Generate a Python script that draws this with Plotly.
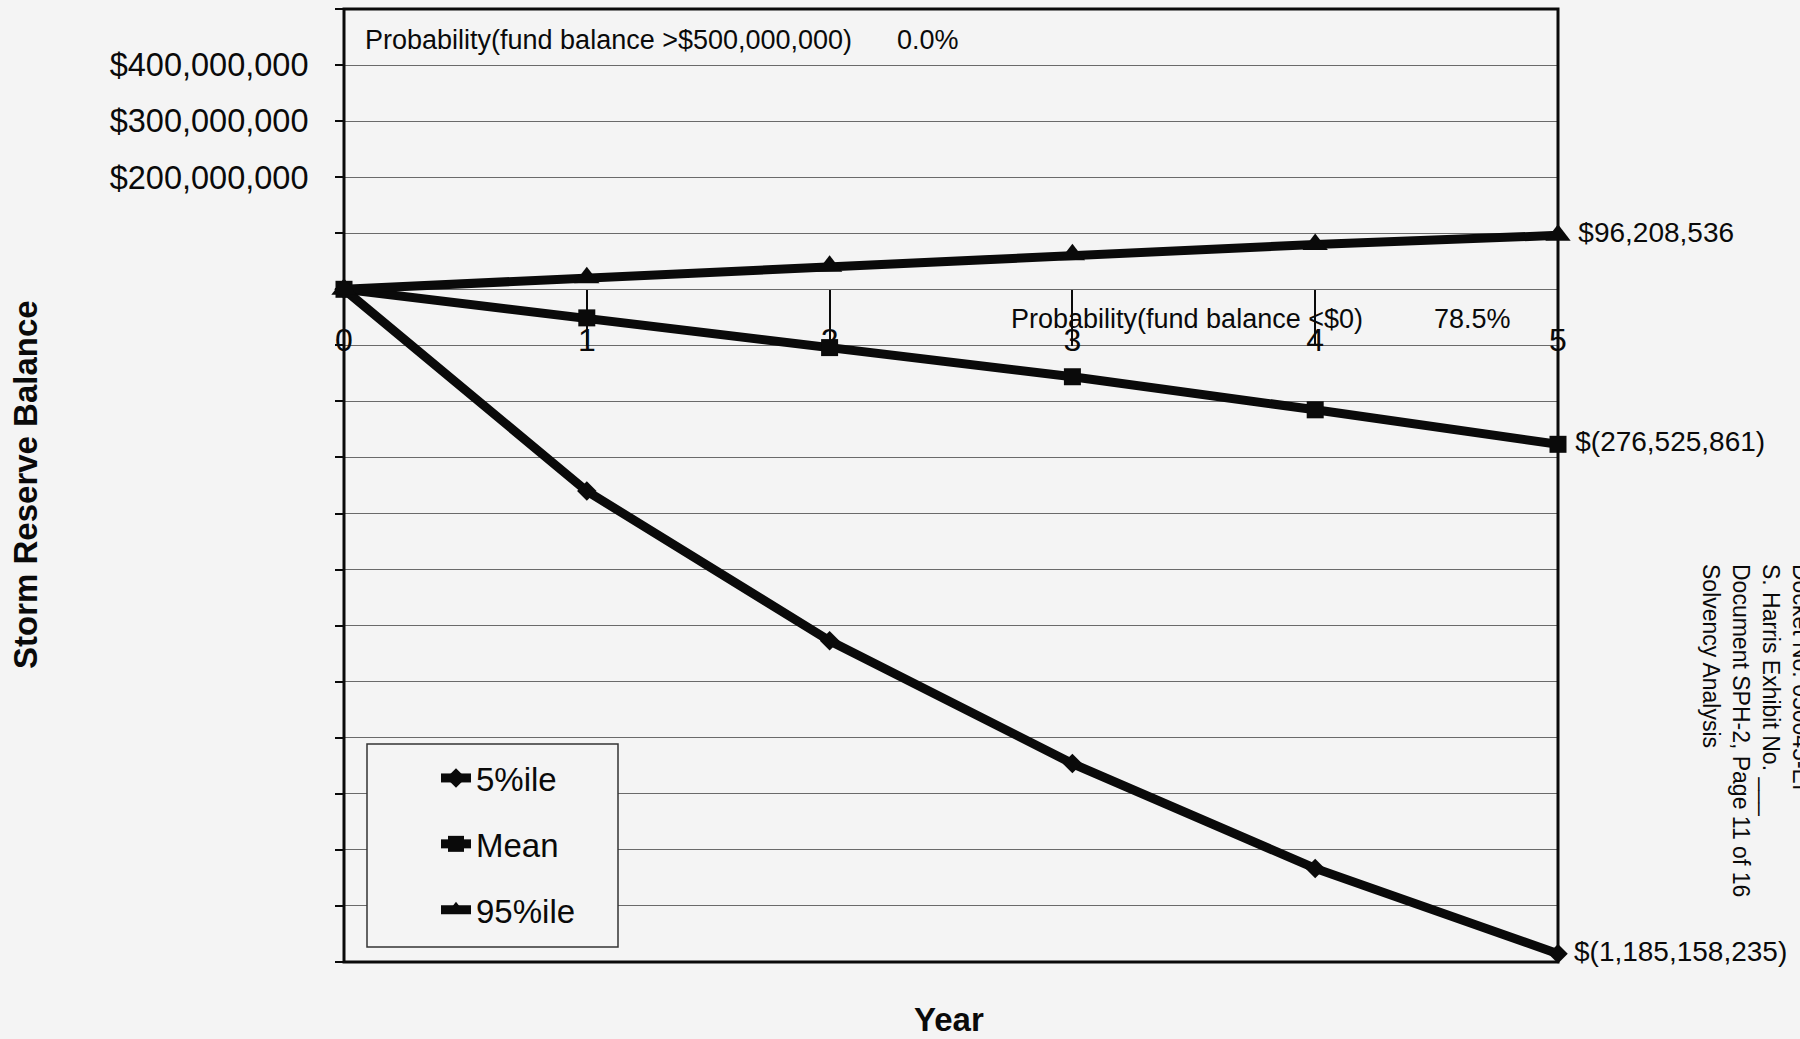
import plotly.graph_objects as go

# Storm reserve fund projection, years 0-5
years = [0, 1, 2, 3, 4, 5]
pct05 = [0, -360_000_000, -627_000_000, -846_000_000, -1_033_000_000, -1_185_158_235]
mean = [0, -51_000_000, -104_000_000, -156_000_000, -215_000_000, -276_525_861]
pct95 = [0, 20_500_000, 41_000_000, 61_500_000, 80_000_000, 96_208_536]

series_names = ["5%ile", "Mean", "95%ile"]
series_symbols = ["diamond", "square", "triangle-up"]
symbol_sizes = [15, 17, 22]

# y axis: gridline every $100M, only a few labelled
y_tick_values = list(range(-1_200_000_000, 500_000_001, 100_000_000))
y_labelled = {200_000_000: "$200,000,000", 300_000_000: "$300,000,000", 400_000_000: "$400,000,000"}
y_tick_text = [y_labelled.get(v, "") for v in y_tick_values]
y_range = [-1_200_000_000, 500_000_000]

prob_high_label = "Probability(fund balance >$500,000,000)"
prob_high_value = "0.0%"
prob_low_label = "Probability(fund balance <$0)"
prob_low_value = "78.5%"

side_note = ["Docket No. 050045-EI", "S. Harris Exhibit No. ___",
             "Document SPH-2, Page 11 of 16", "Solvency Analysis"]

FONT = "Liberation Sans, Arial, sans-serif"
BG = "#f4f4f4"
INK = "#0a0a0a"


def money(v):
    # thin space keeps the end-of-line label clear of the marker
    return f"\u2009${v:,.0f}" if v >= 0 else f"\u2009$({abs(v):,.0f})"


fig = go.Figure()
for name, sym, size, vals in zip(series_names, series_symbols, symbol_sizes, [pct05, mean, pct95]):
    labels = [""] * (len(vals) - 1) + [money(vals[-1])]
    fig.add_trace(go.Scatter(
        x=years, y=vals, name=name, legendgroup=name,
        mode="lines+markers+text",
        line=dict(color=INK, width=9),
        marker=dict(symbol=sym, size=size, color=INK),
        text=labels, textposition="middle right",
        textfont=dict(family=FONT, size=28, color=INK),
        cliponaxis=False,
    ))

# plot area spans x 344..1558, y 9..962 in a 1800x1039 page
L, R, T, B = 344, 1558, 9, 962
W, H = R - L, B - T


def px(x):
    return (x - L) / W


def py(y):
    return (B - y) / H


zero_pos = (0 - y_range[0]) / (y_range[1] - y_range[0])

fig.update_layout(
    width=1800, height=1039,
    margin=dict(l=L, r=1800 - R, t=T, b=1039 - B),
    paper_bgcolor=BG, plot_bgcolor=BG,
    font=dict(family=FONT, color=INK),
    xaxis=dict(
        range=[0, 5], tickvals=years, ticktext=[str(y) for y in years],
        anchor="free", position=zero_pos,
        showgrid=False, zeroline=False, showline=False,
        ticks="outside", ticklen=56, tickwidth=2, tickcolor=INK,
        tickfont=dict(size=32, family=FONT, color=INK),
        ticklabelstandoff=-34,
    ),
    yaxis=dict(
        range=y_range, tickvals=y_tick_values, ticktext=y_tick_text,
        showgrid=True, gridcolor="#6a6a6a", gridwidth=1.2,
        zeroline=False, showline=False,
        ticks="outside", ticklen=8, tickwidth=1.5, tickcolor=INK,
        tickfont=dict(size=32.5, family=FONT, color=INK),
        ticklabelstandoff=20,
    ),
    showlegend=True,
    legend=dict(
        x=px(436), y=py(750), xanchor="left", yanchor="top",
        bgcolor="rgba(0,0,0,0)", borderwidth=0,
        font=dict(size=33, family=FONT, color=INK),
        tracegroupgap=20, traceorder="grouped",
    ),
)

# plot frame and legend box
fig.add_shape(type="rect", xref="paper", yref="paper", x0=0, x1=1, y0=0, y1=1,
              line=dict(color=INK, width=3), layer="above")
fig.add_shape(type="rect", xref="paper", yref="paper",
              x0=px(367), x1=px(618), y0=py(947), y1=py(744),
              line=dict(color="#333333", width=1.5), fillcolor=BG, layer="above")

ann = dict(xref="paper", yref="paper", showarrow=False,
           font=dict(family=FONT, size=27, color=INK))
fig.add_annotation(text=prob_high_label, x=px(363), y=py(40), xanchor="left", yanchor="middle", **ann)
fig.add_annotation(text=prob_high_value, x=px(895), y=py(40), xanchor="left", yanchor="middle", **ann)
fig.add_annotation(text=prob_low_label, x=px(1009), y=py(319), xanchor="left", yanchor="middle", **ann)
fig.add_annotation(text=prob_low_value, x=px(1432), y=py(319), xanchor="left", yanchor="middle", **ann)

# axis titles
fig.add_annotation(text="<b>Storm Reserve Balance</b>", x=px(25), y=py(485), textangle=-90,
                   xref="paper", yref="paper", showarrow=False,
                   xanchor="center", yanchor="middle",
                   font=dict(family=FONT, size=33, color=INK))
fig.add_annotation(text="<b>Year</b>", x=px(949), y=py(1019),
                   xref="paper", yref="paper", showarrow=False,
                   xanchor="center", yanchor="middle",
                   font=dict(family=FONT, size=33, color=INK))

# exhibit stamp along the right edge
fig.add_annotation(text="<br>".join(side_note), x=px(1756), y=py(730), textangle=90,
                   xref="paper", yref="paper", showarrow=False, align="left",
                   xanchor="center", yanchor="middle",
                   font=dict(family=FONT, size=23, color=INK))

fig.write_html("out.html")
